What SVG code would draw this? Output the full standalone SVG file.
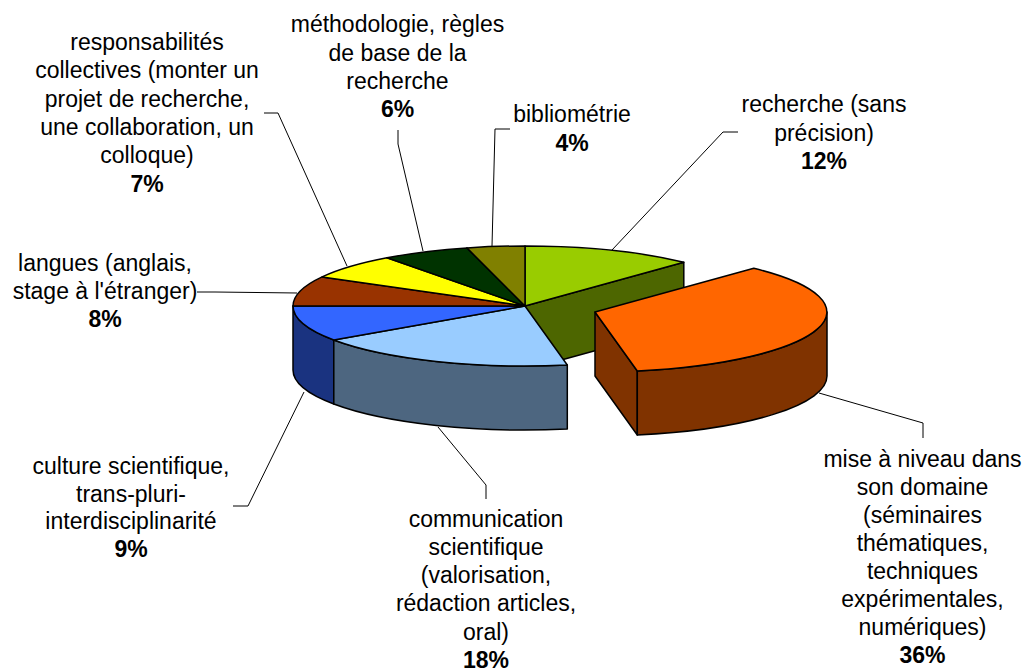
<svg xmlns="http://www.w3.org/2000/svg" width="1025" height="668" viewBox="0 0 1025 668">
<style>
.s{stroke:#000;stroke-width:1.5;stroke-linejoin:round}
.t{font-family:"Liberation Sans",Arial,sans-serif;font-size:23px;fill:#000;text-anchor:middle}
.b{font-weight:bold}
.l{fill:none;stroke:#000;stroke-width:1}
</style>
<rect width="1025" height="668" fill="#fff"/>
<g id="pie-sides">
<path class="s" fill="#4d6600" d="M525,306 L683.8,262.3 L683.8,326.3 L525,370 Z"/>
<path class="s" fill="#1a3380" d="M333.8,340 A232,60 0 0 1 293,306 L293,370 A232,60 0 0 0 333.8,404 Z"/>
<path class="s" fill="#4d6680" d="M567.3,365 A232,60 0 0 1 333.8,340 L333.8,404 A232,60 0 0 0 567.3,429 Z"/>
</g>
<g id="recherche">
<path class="s" fill="#99cc00" d="M525,306 L525,246 A232,60 0 0 1 683.8,262.3 Z"/>
<text class="t" x="824" y="112">recherche (sans</text>
<text class="t" x="824" y="140.5">précision)</text>
<text class="t b" x="824" y="169">12%</text>
</g>
<g id="mise-a-niveau">
<path class="s" fill="#803300" d="M595,312 L637.3,371 L637.3,435 L595,376 Z"/>
<path class="s" fill="#803300" d="M827,312 A232,60 0 0 1 637.3,371 L637.3,435 A232,60 0 0 0 827,376 Z"/>
<path class="s" fill="#ff6600" d="M595,312 L753.8,268.3 A232,60 0 0 1 637.3,371 Z"/>
<text class="t" x="922.5" y="467">mise à niveau dans</text>
<text class="t" x="922.5" y="495">son domaine</text>
<text class="t" x="922.5" y="523">(séminaires</text>
<text class="t" x="922.5" y="551">thématiques,</text>
<text class="t" x="922.5" y="579">techniques</text>
<text class="t" x="922.5" y="607">expérimentales,</text>
<text class="t" x="922.5" y="635">numériques)</text>
<text class="t b" x="922.5" y="663">36%</text>
</g>
<g id="communication">
<path class="s" fill="#99ccff" d="M525,306 L567.3,365 A232,60 0 0 1 333.8,340 Z"/>
<text class="t" x="486" y="526.5">communication</text>
<text class="t" x="486" y="554.8">scientifique</text>
<text class="t" x="486" y="583.1">(valorisation,</text>
<text class="t" x="486" y="611.4">rédaction articles,</text>
<text class="t" x="486" y="639.7">oral)</text>
<text class="t b" x="486" y="668">18%</text>
</g>
<g id="culture">
<path class="s" fill="#3366ff" d="M525,306 L333.8,340 A232,60 0 0 1 293,306 Z"/>
<text class="t" x="131" y="474">culture scientifique,</text>
<text class="t" x="131" y="501.5">trans-pluri-</text>
<text class="t" x="131" y="529">interdisciplinarité</text>
<text class="t b" x="131" y="556.5">9%</text>
</g>
<g id="langues">
<path class="s" fill="#993300" d="M525,306 L293,306 A232,60 0 0 1 322.1,276.9 Z"/>
<text class="t" x="105" y="270.7">langues (anglais,</text>
<text class="t" x="105" y="299">stage à l'étranger)</text>
<text class="t b" x="105" y="327.3">8%</text>
</g>
<g id="responsabilites">
<path class="s" fill="#ffff00" d="M525,306 L322.1,276.9 A232,60 0 0 1 387,257.8 Z"/>
<text class="t" x="147" y="50">responsabilités</text>
<text class="t" x="147" y="78.3">collectives (monter un</text>
<text class="t" x="147" y="106.6">projet de recherche,</text>
<text class="t" x="147" y="134.9">une collaboration, un</text>
<text class="t" x="147" y="163.2">colloque)</text>
<text class="t b" x="147" y="191.5">7%</text>
</g>
<g id="methodologie">
<path class="s" fill="#003300" d="M525,306 L387,257.8 A232,60 0 0 1 466.9,247.9 Z"/>
<text class="t" x="397.5" y="32.3">méthodologie, règles</text>
<text class="t" x="397.5" y="60.6">de base de la</text>
<text class="t" x="397.5" y="88.9">recherche</text>
<text class="t b" x="397.5" y="117.2">6%</text>
</g>
<g id="bibliometrie">
<path class="s" fill="#808000" d="M525,306 L466.9,247.9 A232,60 0 0 1 525,246 Z"/>
<text class="t" x="572" y="122.3">bibliométrie</text>
<text class="t b" x="572" y="151">4%</text>
</g>
<g id="connectors">
<polyline class="l" points="264,113 278,113 347,266"/>
<polyline class="l" points="398,130 398,144 423,251"/>
<polyline class="l" points="510,129 495,129 492,246"/>
<polyline class="l" points="738,132 723,132 612,250"/>
<polyline class="l" points="197,292 215,292 297,293"/>
<polyline class="l" points="233,506 248,506 304,392"/>
<polyline class="l" points="486,499 486,485 438,427"/>
<polyline class="l" points="923,438 923,423 819,393"/>
</g>
</svg>
